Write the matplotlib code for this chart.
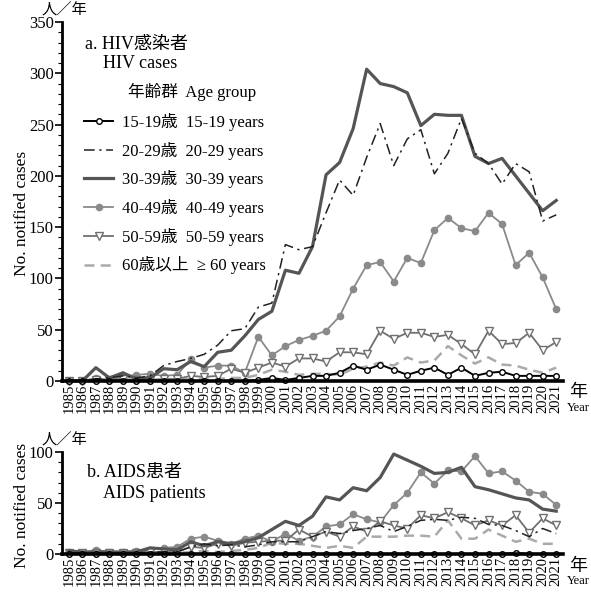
import numpy as np
import matplotlib.pyplot as plt
from matplotlib.lines import Line2D

plt.rcParams['font.family'] = ['Liberation Serif', 'Noto Sans CJK JP']

years = np.arange(1985, 2022)

# a. HIV cases per age group
hiv_15_19 = [0] * 14 + [1, 3, 1, 3, 5, 5, 8, 15, 11, 16, 11, 6, 10, 13, 6, 13, 5, 8, 9, 5, 5, 5, 5]
hiv_20_29 = [0, 0, 2, 3, 5, 3, 5, 15, 19, 22, 26, 35, 49, 51, 72, 76, 133, 128, 131, 164,
             196, 181, 218, 251, 210, 236, 245, 202, 222, 256, 222, 212, 192, 212, 204, 156, 162]
hiv_30_39 = [0, 0, 13, 3, 8, 2, 3, 12, 11, 19, 14, 28, 30, 44, 60, 68, 108, 105, 131, 201,
             213, 246, 304, 290, 287, 281, 249, 260, 259, 259, 219, 212, 217, 200, 183, 166, 176]
hiv_40_49 = [0, 0, 3, 1, 4, 6, 7, 5, 6, 21, 13, 15, 15, 8, 43, 25, 34, 40, 44, 49,
             63, 90, 113, 116, 97, 120, 115, 147, 159, 149, 146, 164, 153, 113, 125, 101, 70]
hiv_50_59 = [0, 0, 1, 1, 2, 1, 1, 2, 2, 5, 4, 5, 12, 8, 13, 18, 14, 22, 22, 19,
             28, 28, 26, 49, 41, 47, 47, 43, 45, 36, 26, 49, 36, 37, 47, 30, 38]
hiv_60 = [0, 0, 0, 0, 1, 1, 1, 1, 1, 2, 2, 2, 3, 3, 6, 11, 9, 6, 7, 7,
          6, 12, 14, 18, 15, 23, 18, 20, 34, 25, 17, 23, 16, 15, 11, 8, 13]

# b. AIDS patients per age group
aids_15_19 = [0] * 33 + [1, 0, 0, 0]
aids_20_29 = [1, 1, 1, 1, 1, 1, 2, 2, 2, 7, 10, 8, 9, 7, 9, 12, 12, 12, 17, 22,
              20, 23, 25, 28, 22, 27, 33, 34, 33, 36, 35, 29, 28, 23, 17, 25, 20]
aids_30_39 = [3, 2, 2, 2, 2, 2, 6, 5, 4, 12, 8, 12, 10, 12, 16, 24, 32, 28, 37, 56,
              53, 65, 62, 75, 98, 92, 86, 79, 80, 85, 66, 63, 59, 55, 53, 44, 42]
aids_40_49 = [2, 1, 4, 2, 2, 3, 4, 6, 7, 15, 17, 13, 10, 15, 18, 12, 20, 13, 17, 27,
              29, 39, 34, 31, 48, 60, 80, 69, 82, 81, 96, 79, 81, 72, 61, 59, 48]
aids_50_59 = [1, 1, 1, 1, 1, 1, 2, 2, 2, 7, 6, 10, 8, 11, 12, 13, 13, 24, 17, 22,
              17, 27, 22, 32, 28, 25, 38, 35, 41, 35, 28, 33, 28, 38, 21, 35, 28]
aids_60 = [0, 0, 0, 0, 0, 0, 1, 1, 1, 2, 3, 2, 3, 4, 6, 11, 10, 10, 8, 6,
           8, 6, 17, 17, 17, 18, 18, 17, 33, 15, 15, 24, 18, 12, 15, 10, 10]

labels = ['15-19歳  15-19 years', '20-29歳  20-29 years', '30-39歳  30-39 years',
          '40-49歳  40-49 years', '50-59歳  50-59 years', '60歳以上  ≥ 60 years']

styles = [
    dict(color='black', lw=1.4, marker='o', ms=4, mfc='white', mec='black', mew=1.0, zorder=6),
    dict(color='#222222', lw=1.1, ls=(0, (7, 3, 1.5, 3)), zorder=5),
    dict(color='#555555', lw=2.3, zorder=4),
    dict(color='#8a8a8a', lw=1.3, marker='o', ms=4.5, mfc='#8a8a8a', mec='#8a8a8a', zorder=3),
    dict(color='#707070', lw=1.3, marker='v', ms=5.5, mfc='white', mec='#707070', mew=1.0, zorder=3),
    dict(color='#aaaaaa', lw=1.8, ls=(0, (4, 2.5)), zorder=2),
]

W, H = 591, 596
fig = plt.figure(figsize=(W / 100, H / 100), dpi=100)


def px_axes(x0, y0, x1, y1):
    return fig.add_axes([x0 / W, 1 - y1 / H, (x1 - x0) / W, (y1 - y0) / H])


ax1 = px_axes(62, 22, 563, 381)
ax2 = px_axes(62, 452, 563, 554)


def style_axis(ax, ymax):
    ax.set_xlim(1984.5, 2021.5)
    ax.set_ylim(0, ymax)
    for s in ['top', 'right']:
        ax.spines[s].set_visible(False)
    ax.spines['left'].set_linewidth(2)
    ax.spines['bottom'].set_linewidth(2.6)
    ax.spines['bottom'].set_zorder(7)
    ax.set_yticks(np.arange(0, ymax + 1, 50))
    ax.set_yticks(np.arange(0, ymax + 1, 10), minor=True)
    ax.tick_params(axis='y', which='major', length=5, width=1.2, labelsize=12, pad=1)
    ax.tick_params(axis='y', which='minor', length=3, width=0.8)
    ax.set_xticks(years)
    ax.set_xticklabels([str(y) for y in years], rotation=90)
    ax.tick_params(axis='x', length=0, labelsize=10.5, pad=2)


style_axis(ax1, 350)
style_axis(ax2, 100)

for data, st in zip([hiv_15_19, hiv_20_29, hiv_30_39, hiv_40_49, hiv_50_59, hiv_60], styles):
    ax1.plot(years, data, clip_on=False, **st)
for data, st in zip([aids_15_19, aids_20_29, aids_30_39, aids_40_49, aids_50_59, aids_60], styles):
    ax2.plot(years, data, clip_on=False, **st)

# y axis titles
fig.text(22 / W, 1 - 213 / H, 'No. notified cases', fontsize=12.5, rotation=90,
         ha='center', va='center')
fig.text(22 / W, 1 - 505 / H, 'No. notified cases', fontsize=12.5, rotation=90,
         ha='center', va='center')

# legend
handles = [Line2D([], [], **{k: v for k, v in st.items() if k != 'zorder'}) for st in styles]
fig.legend(handles, labels, loc='upper left', bbox_to_anchor=(84 / W, 1 - 113 / H),
           frameon=False, fontsize=12, handlelength=1.75, handletextpad=0.55,
           labelspacing=0.64, borderpad=0, borderaxespad=0)
fig.text(128 / W, 1 - 92 / H, '年齢群  Age group', fontsize=12, va='center')

# panel titles
fig.text(85 / W, 1 - 44 / H, 'a. HIV感染者', fontsize=13, va='center')
fig.text(103 / W, 1 - 64 / H, 'HIV cases', fontsize=13, va='center')
fig.text(87 / W, 1 - 473 / H, 'b. AIDS患者', fontsize=13, va='center')
fig.text(103 / W, 1 - 493 / H, 'AIDS patients', fontsize=13, va='center')

# unit labels
for ytop in [10, 440]:
    fig.text(64 / W, 1 - ytop / H, '人／年', fontsize=11, ha='center', va='center')
for ybot in [393, 566]:
    fig.text(578 / W, 1 - ybot / H, '年', fontsize=13, ha='center', va='center')
    fig.text(578 / W, 1 - (ybot + 15) / H, 'Year', fontsize=9, ha='center', va='center')

fig.savefig('out.png', dpi=100)
